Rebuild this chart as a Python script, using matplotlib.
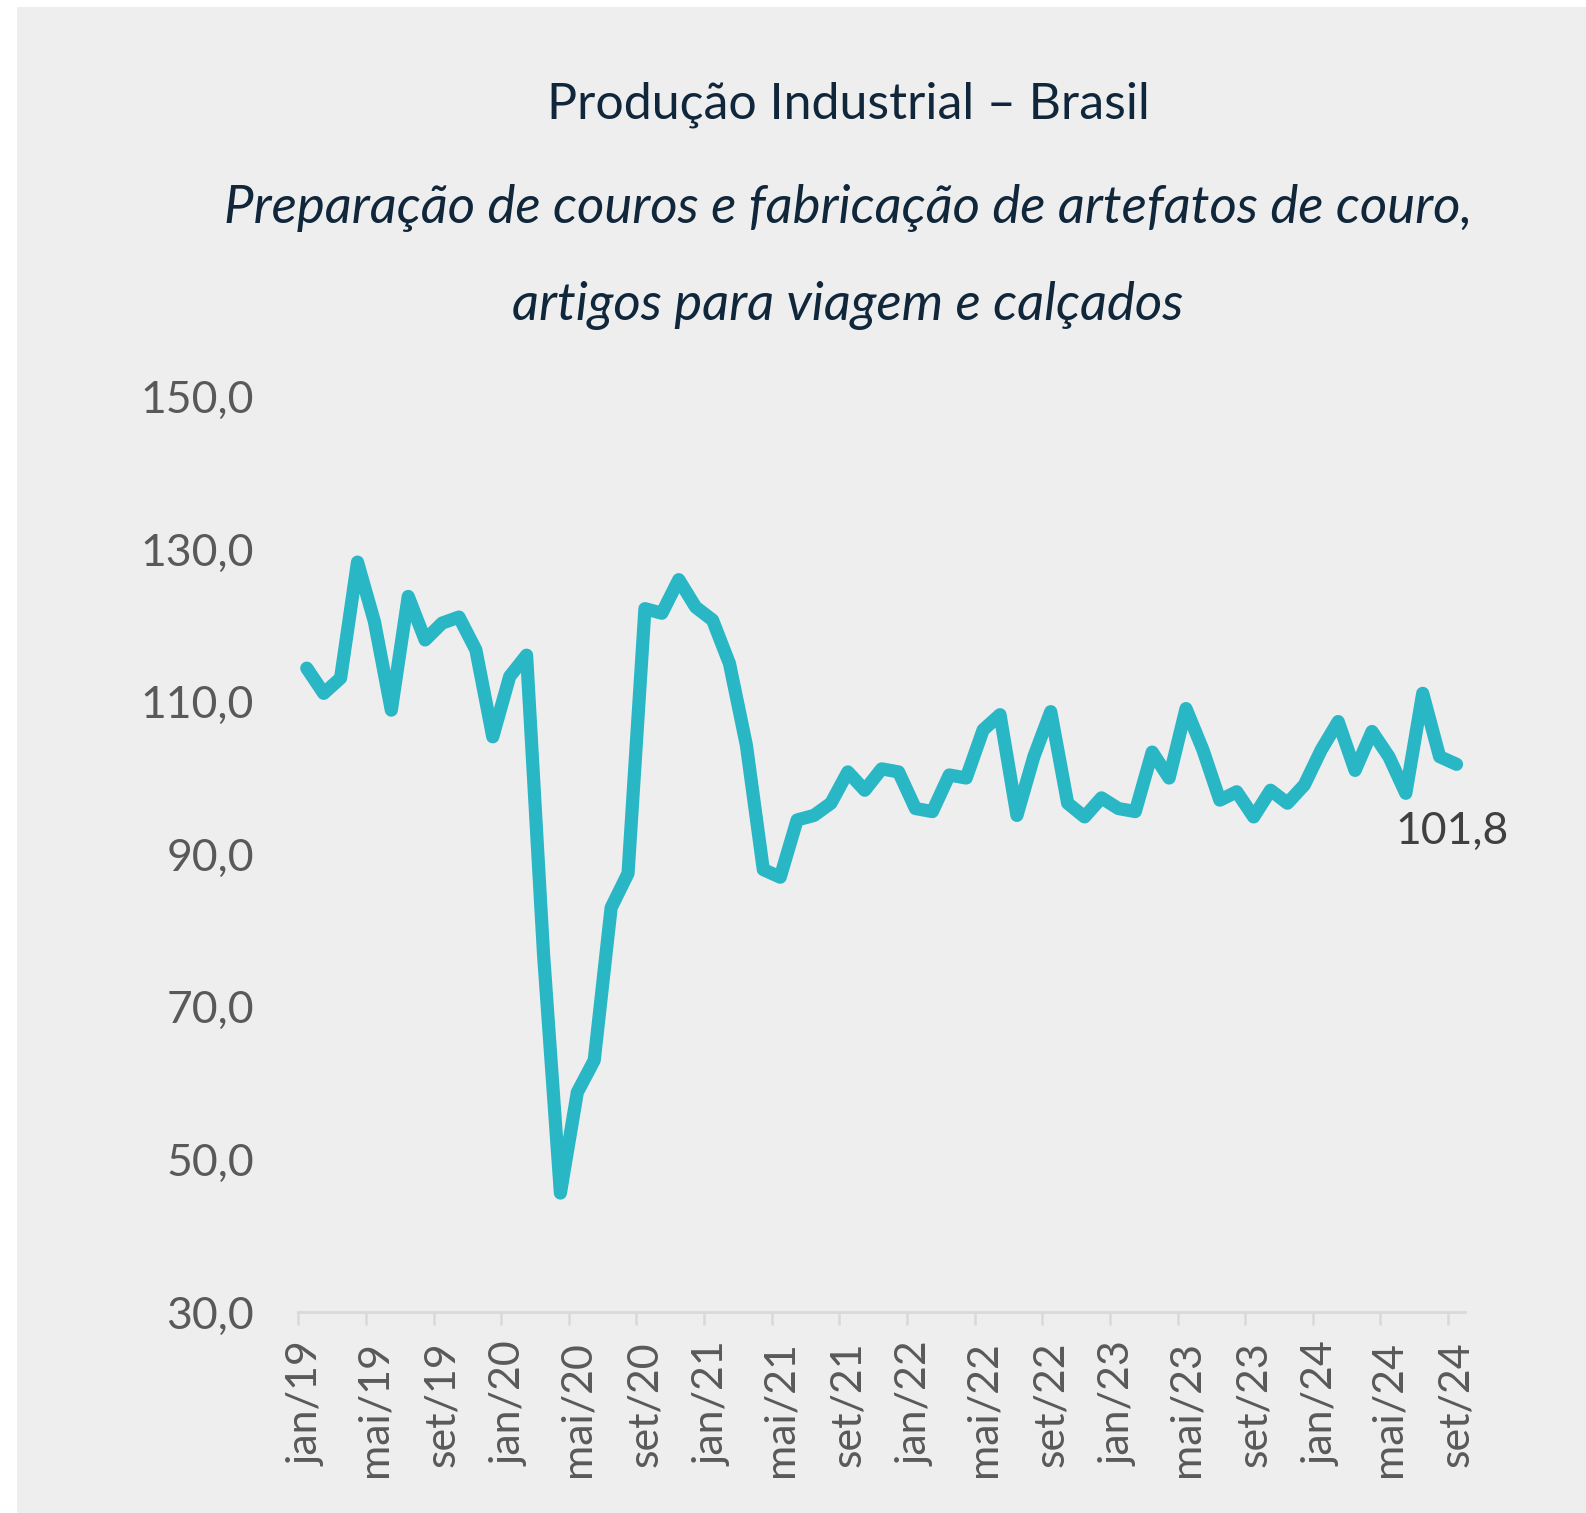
import matplotlib
matplotlib.use('Agg')
import matplotlib.pyplot as plt
from matplotlib.patches import Rectangle
from matplotlib.ticker import FuncFormatter

# monthly index, jan/19 .. set/24
values_2019 = [114.4, 111.1, 113.1, 128.3, 120.5, 108.9, 123.8, 118.1, 120.3, 121.1, 116.8, 105.4]
values_2020 = [113.3, 116.1, 77.0, 45.6, 58.8, 63.0, 83.0, 87.5, 122.2, 121.6, 126.0, 122.4]
values_2021 = [120.7, 115.0, 104.3, 88.0, 87.0, 94.5, 95.1, 96.7, 100.8, 98.4, 101.2, 100.8]
values_2022 = [96.0, 95.6, 100.4, 100.0, 106.3, 108.3, 95.1, 102.8, 108.7, 96.7, 94.9, 97.4]
values_2023 = [96.0, 95.6, 103.4, 100.0, 109.1, 103.7, 97.1, 98.2, 94.9, 98.4, 96.7, 99.1]
values_2024 = [103.7, 107.4, 101.0, 106.1, 102.8, 98.0, 111.1, 102.8, 101.8]

tick_labels = ['jan/19', 'mai/19', 'set/19', 'jan/20', 'mai/20', 'set/20',
               'jan/21', 'mai/21', 'set/21', 'jan/22', 'mai/22', 'set/22',
               'jan/23', 'mai/23', 'set/23', 'jan/24', 'mai/24', 'set/24']
y_ticks = [30, 50, 70, 90, 110, 130, 150]

values = values_2019 + values_2020 + values_2021 + values_2022 + values_2023 + values_2024
x = list(range(len(values)))

font = 'Lato'
title_color = '#10263A'
label_color = '#595959'

fig = plt.figure(figsize=(15.86, 15.13), dpi=100, facecolor='white')
fig.patches.append(Rectangle((17 / 1586, 0), 1 - 17 / 1586, 1 - 7 / 1513,
                             transform=fig.transFigure, facecolor='#EEEEEE',
                             edgecolor='none', zorder=-10))

ax = fig.add_axes([0.1881, 0.1328, 0.7356, 0.6051])
ax.set_facecolor('none')

ax.plot(x, values, color='#29B6C5', linewidth=9.5, solid_joinstyle='round',
        solid_capstyle='round')

ax.set_xlim(-0.5, len(values) - 0.5)
ax.set_ylim(30, 150)

ax.set_yticks(y_ticks)
ax.yaxis.set_major_formatter(FuncFormatter(lambda v, p: f'{v:.1f}'.replace('.', ',')))

ax.set_xticks(x[::4])
ax.set_xticklabels(tick_labels, rotation=90)
ax.set_xticks([i - 0.5 for i in x[::4]], minor=True)

for s in ['left', 'top', 'right']:
    ax.spines[s].set_visible(False)
ax.spines['bottom'].set_color('#D9D9D9')
ax.spines['bottom'].set_linewidth(2)

ax.tick_params(axis='y', length=0, pad=32, labelsize=32, labelcolor=label_color)
ax.tick_params(axis='x', which='major', length=0, pad=21, labelsize=31,
               labelcolor=label_color)
ax.tick_params(axis='x', which='minor', length=9.5, width=1.8, color='#D9D9D9')
for lbl in ax.get_xticklabels() + ax.get_yticklabels():
    lbl.set_fontfamily(font)

ax.annotate(f'{values[-1]:.1f}'.replace('.', ','), (x[-1], values[-1]),
            xytext=(-3, -48), textcoords='offset points', ha='center', va='center',
            fontsize=32, color='#404040', family=font)

fig.text(848 / 1586, 1 - 105 / 1513, 'Produção Industrial – Brasil',
         ha='center', va='center', fontsize=36, color=title_color, family=font)
fig.text(848 / 1586, 1 - 208 / 1513,
         'Preparação de couros e fabricação de artefatos de couro,',
         ha='center', va='center', fontsize=38, style='italic', color=title_color, family=font)
fig.text(848 / 1586, 1 - 306 / 1513, 'artigos para viagem e calçados',
         ha='center', va='center', fontsize=38, style='italic', color=title_color, family=font)

fig.savefig('out.png', dpi=100, facecolor=fig.get_facecolor())
